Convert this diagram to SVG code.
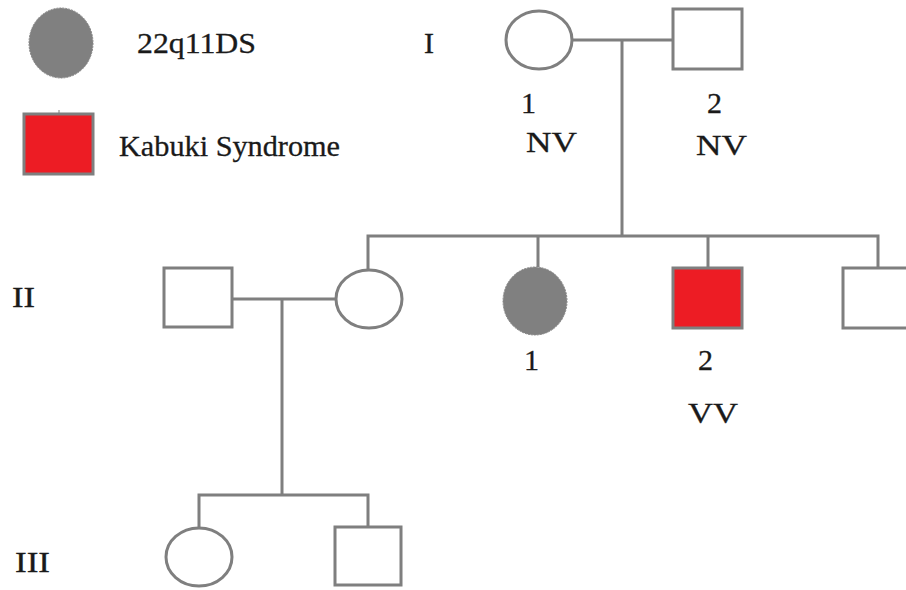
<svg xmlns="http://www.w3.org/2000/svg" width="906" height="590" viewBox="0 0 906 590">
  <style>
    .line { stroke: #7f7f7f; stroke-width: 3; fill: none; }
    .person { stroke: #7f7f7f; stroke-width: 3; fill: #ffffff; }
    .affected22q { fill: #808080; stroke: #858585; stroke-width: 1; stroke-dasharray: 2 1; }
    .kabuki { fill: #ed1c24; stroke: #7f7f7f; stroke-width: 3; }
    text { font-family: "Liberation Serif", "Times New Roman", serif; font-size: 30px; fill: #1a1a1a; stroke: #1a1a1a; stroke-width: 0.3; }
  </style>
  <rect width="906" height="590" fill="#ffffff"/>

  <!-- legend -->
  <g id="legend">
    <ellipse class="affected22q" cx="61" cy="43" rx="32" ry="35"/>
    <text x="137" y="53" textLength="119" lengthAdjust="spacingAndGlyphs">22q11DS</text>
    <line x1="59" y1="110" x2="59" y2="114" stroke="#7f7f7f" stroke-width="1"/>
    <rect class="kabuki" x="24" y="114" width="69" height="60"/>
    <text x="119" y="156" textLength="221" lengthAdjust="spacingAndGlyphs">Kabuki Syndrome</text>
  </g>

  <!-- generation labels -->
  <g id="generations">
    <text x="424" y="53" textLength="10" lengthAdjust="spacingAndGlyphs">I</text>
    <text x="12" y="307" textLength="23" lengthAdjust="spacingAndGlyphs">II</text>
    <text x="15" y="572" textLength="35" lengthAdjust="spacingAndGlyphs">III</text>
  </g>

  <!-- connectors -->
  <g id="connectors">
    <line class="line" x1="572" y1="40" x2="673" y2="40"/>
    <line class="line" x1="622" y1="40" x2="622" y2="236"/>
    <polyline class="line" points="368,270 368,236 878,236 878,268"/>
    <line class="line" x1="538" y1="236" x2="538" y2="267"/>
    <line class="line" x1="708" y1="236" x2="708" y2="268"/>
    <line class="line" x1="232" y1="299" x2="336" y2="299"/>
    <line class="line" x1="282" y1="299" x2="282" y2="495"/>
    <polyline class="line" points="199,528 199,495 368,495 368,527"/>
  </g>

  <!-- generation I -->
  <g id="I-1">
    <ellipse class="person" cx="539" cy="40" rx="33" ry="29"/>
    <text x="521" y="113">1</text>
    <text x="526" y="152" textLength="51" lengthAdjust="spacingAndGlyphs">NV</text>
  </g>
  <g id="I-2">
    <rect class="person" x="673" y="9" width="69" height="60"/>
    <text x="707" y="113">2</text>
    <text x="696" y="155" textLength="51" lengthAdjust="spacingAndGlyphs">NV</text>
  </g>

  <!-- generation II -->
  <g id="II-spouse">
    <rect class="person" x="164" y="268" width="68" height="59"/>
  </g>
  <g id="II-sister">
    <ellipse class="person" cx="369" cy="299" rx="33" ry="29"/>
  </g>
  <g id="II-1">
    <ellipse class="affected22q" cx="535" cy="301" rx="32" ry="34"/>
    <text x="524" y="370">1</text>
  </g>
  <g id="II-2">
    <rect class="kabuki" x="673" y="268" width="69" height="60"/>
    <text x="698" y="370">2</text>
    <text x="688" y="423" textLength="50" lengthAdjust="spacingAndGlyphs">VV</text>
  </g>
  <g id="II-brother">
    <rect class="person" x="843" y="268" width="69" height="60"/>
  </g>

  <!-- generation III -->
  <g id="III-1">
    <ellipse class="person" cx="199" cy="557" rx="33" ry="29"/>
  </g>
  <g id="III-2">
    <rect class="person" x="335" y="527" width="66" height="58"/>
  </g>
</svg>
